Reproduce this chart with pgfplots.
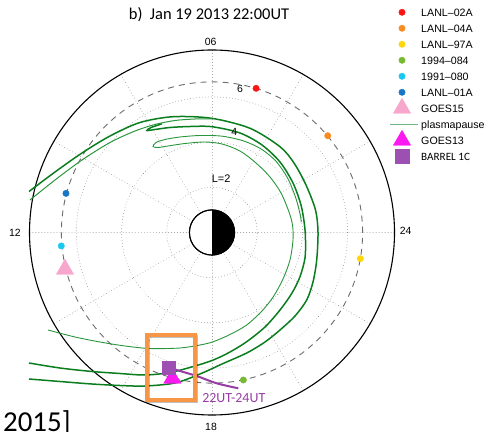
\documentclass[border=0pt]{standalone}
\usepackage{pgfplots}
\pgfplotsset{compat=1.18}
\usepackage{fontspec}
\setmainfont{Liberation Sans}
\newfontfamily\carlito{Carlito}

\definecolor{lanlred}{RGB}{250,20,20}
\definecolor{lanlorange}{RGB}{247,140,35}
\definecolor{lanlyellow}{RGB}{255,214,10}
\definecolor{satgreen}{RGB}{118,186,52}
\definecolor{satcyan}{RGB}{25,200,240}
\definecolor{satblue}{RGB}{25,118,196}
\definecolor{goespink}{RGB}{247,166,204}
\definecolor{goesmag}{RGB}{250,25,240}
\definecolor{barrel}{RGB}{155,80,178}
\definecolor{ppdark}{RGB}{10,125,30}
\definecolor{pplight}{RGB}{40,150,60}
\definecolor{ppleg}{RGB}{110,180,130}
\definecolor{track}{RGB}{150,60,165}
\definecolor{boxorange}{RGB}{247,150,70}
\definecolor{gridgray}{RGB}{145,145,145}

% 1 L = 22.6 bp on the page
\pgfplotsset{
  legmark/.style={only marks,
    legend image code/.code={%
      \draw[##1,overlay] plot coordinates {(12bp,0bp)};
      \path[draw=none,fill=none] (0bp,-4bp) rectangle (31.2bp,4bp);}},
  legline/.style={
    legend image code/.code={%
      \draw[##1,overlay] (0bp,0bp) -- (28bp,0bp);
      \path[draw=none,fill=none] (0bp,-4bp) rectangle (31.2bp,4bp);}},
}
\tikzset{
  gridline/.style={gridgray, line width=0.85bp, line cap=round,
    dash pattern=on 0.01bp off 3bp},
}

\begin{document}
\begin{tikzpicture}
\begin{axis}[
  at={(0,0)}, anchor=south west,
  scale only axis, width=486bp, height=432bp,
  xmin=-9.3805, xmax=12.1239, ymin=-8.8274, ymax=10.2876,
  axis lines=none, ticks=none, clip=false,
  legend cell align=left,
  legend style={draw=none, fill=none, inner sep=0pt, outer sep=0pt,
    at={(0.8025,0.9808)}, anchor=north west,
    row sep=8bp, column sep=0pt,
    nodes={inner sep=0pt, text height=7.7bp, text depth=0bp,
      font=\fontsize{10.7}{12}\selectfont}},
]
% --- L-shell grid ---
\pgfplotsinvokeforeach{0,30,...,330}{
  \draw[gridline] (axis cs:0,0) ++(#1:22.6bp) -- ++(#1:159.9bp);
}
\draw[gridline] (axis cs:0,0) circle[radius=45.2bp];
\draw[gridline] (axis cs:0,0) circle[radius=90.4bp];
\draw[gridline] (axis cs:0,0) circle[radius=135.6bp];
\draw[gray!85!black, line width=0.9bp, dash pattern=on 6bp off 5bp]
  (axis cs:0,0) circle[radius=150.6bp];
\draw[black, line width=1.1bp] (axis cs:0,0) circle[radius=182.5bp];

% Earth: day side white, night side black
\draw[fill=white, line width=1bp] (axis cs:0,0) circle[radius=22.6bp];
\fill[black] (axis cs:0,0) ++(90:22.6bp) arc[start angle=90, end angle=-90, radius=22.6bp] -- cycle;
\draw[line width=1bp] (axis cs:0,0) circle[radius=22.6bp];

% --- plasmapause contours ---
\addplot[ppdark, line width=1.5bp, smooth, tension=0.5, forget plot] coordinates {
  (-8.097,-6.482) (-6.726,-6.593) (-5.310,-6.704) (-4.071,-6.770) (-2.965,-6.792)
  (-1.637,-6.659) (-0.531,-6.261) (0.442,-5.819) (1.535,-5.332) (2.345,-4.845)
  (3.009,-4.314) (3.673,-3.695) (4.190,-2.987) (4.469,-2.190) (4.633,-1.217)
  (4.690,0.022) (4.580,0.996) (4.159,2.102) (3.628,3.075) (3.009,3.796) (1.681,4.611)
  (-0.013,5.053) (-1.712,5.124) (-3.186,4.867) (-4.513,4.270) (-5.752,3.518)
  (-6.947,2.677) (-8.097,1.814)};
\addplot[ppdark, line width=1.5bp, smooth, tension=0.5, forget plot] coordinates {
  (-8.097,-5.774) (-6.726,-5.996) (-5.310,-6.150) (-4.071,-6.239) (-2.965,-6.305)
  (-1.858,-6.195) (-0.752,-5.907) (0.058,-5.642) (0.796,-5.288) (1.535,-4.832)
  (2.345,-4.181) (3.009,-3.429) (3.540,-2.677) (3.894,-1.956) (4.115,-1.128)
  (4.137,-0.332) (4.093,0.332)
  (3.938,1.217) (3.584,2.190) (3.009,3.119) (2.212,3.872) (1.239,4.403)
  (0,4.681) (-0.973,4.690) (-1.858,4.646) (-2.522,4.558) (-2.876,4.513)
  (-2.699,4.646) (-2.212,4.810)};
\addplot[pplight, line width=1bp, smooth, tension=0.5, forget plot] coordinates {
  (-8.053,1.438) (-6.947,2.323) (-5.752,3.208) (-4.513,3.982) (-3.407,4.491)
  (-2.522,4.779) (-1.637,4.956) (-0.752,5.022) (0,5.031)};
\addplot[pplight, line width=0.9bp, smooth, tension=0.5, forget plot] coordinates {
  (-7.257,-4.314) (-6.062,-4.624) (-4.956,-4.845) (-3.850,-5.022) (-2.743,-5.133)
  (-1.416,-5.111) (-0.531,-4.978) (0.058,-4.832) (0.796,-4.513) (1.535,-4.093)
  (2.212,-3.473) (2.712,-2.841) (3.142,-2.058) (3.451,-1.217) (3.584,-0.332)
  (3.562,0.332) (3.407,0.907)
  (3.053,1.748) (2.566,2.456) (1.947,3.075) (1.239,3.606) (0.442,3.916)
  (-0.310,4.004) (-1.195,3.938) (-1.947,3.827) (-2.389,3.761) (-2.611,3.805)
  (-2.478,3.982) (-2.080,4.115) (-1.416,4.226) (-0.531,4.292) (0.442,4.262)
  (1.400,4.050) (2.200,3.680) (2.850,3.130) (3.350,2.400) (3.700,1.550)
  (3.900,0.800) (3.950,0.450)};

% --- spacecraft positions (MLT*15 deg, L) ---
\addplot[data cs=polar, only marks, mark=*, mark size=3.2bp, lanlred, forget plot] coordinates {(73.0,6.671)};
\addplot[data cs=polar, only marks, mark=*, mark size=3.2bp, lanlorange, forget plot] coordinates {(39.9,6.675)};
\addplot[data cs=polar, only marks, mark=*, mark size=3.2bp, lanlyellow, forget plot] coordinates {(350.0,6.664)};
\addplot[data cs=polar, only marks, mark=*, mark size=3.2bp, satgreen, forget plot] coordinates {(282.0,6.672)};
\addplot[data cs=polar, only marks, mark=*, mark size=3.2bp, satcyan, forget plot] coordinates {(185.1,6.695)};
\addplot[data cs=polar, only marks, mark=*, mark size=3.2bp, satblue, forget plot] coordinates {(165.0,6.689)};
\addplot[data cs=polar, only marks, mark=triangle*, mark size=10bp, goespink, forget plot] coordinates {(194.05,6.705)};
\addplot[data cs=polar, only marks, mark=triangle*, mark size=10bp, goesmag, forget plot] coordinates {(254.8,6.684)};
% BARREL 1C track 22-24 UT
\addplot[track, line width=2bp, smooth, forget plot] coordinates {
  (-1.894,-5.973) (-1.562,-6.084) (-0.677,-6.350) (0.208,-6.673) (1.164,-6.894)};
\addplot[data cs=polar, only marks, mark=square*, mark size=6.5bp, barrel, forget plot] coordinates {(252.4,6.266)};

% highlight box
\draw[black, opacity=0.25, line width=3.3bp] (axis cs:-2.836,-4.595) rectangle (axis cs:-0.712,-7.472);
\draw[boxorange, line width=3.3bp] (axis cs:-2.876,-4.535) rectangle (axis cs:-0.752,-7.412);

% --- labels ---
\node[anchor=base, font=\carlito\fontsize{16.5}{18}\selectfont] at (axis cs:-0.133,9.403) {b)\ \ Jan 19 2013 22:00UT};
\node[anchor=base, font=\fontsize{10.5}{12}\selectfont] at (axis cs:-0.058,8.296) {06};
\node[anchor=base, font=\fontsize{10.5}{12}\selectfont] at (axis cs:-8.717,-0.155) {12};
\node[anchor=base, font=\fontsize{10.5}{12}\selectfont] at (axis cs:8.571,-0.080) {24};
\node[anchor=base, font=\fontsize{10.5}{12}\selectfont] at (axis cs:-0.044,-8.783) {18};
\node[anchor=base, font=\fontsize{11}{12}\selectfont] at (axis cs:0.405,2.204) {L=2};
\node[anchor=base, font=\fontsize{10.5}{12}\selectfont] at (axis cs:0.987,4.270) {4};
\node[anchor=base, font=\fontsize{10.5}{12}\selectfont] at (axis cs:1.239,6.186) {6};
\node[anchor=base, text=track, font=\carlito\fontsize{14}{16}\selectfont] at (axis cs:0.965,-7.531) {22UT-24UT};
\node[anchor=base west, inner sep=0pt, font=\carlito\fontsize{29}{32}\selectfont] at (axis cs:-9.248,-8.805) {2015]};

% --- legend ---
\addlegendimage{legmark, mark=*, mark size=3.2bp, lanlred}
\addlegendentry{LANL--02A}
\addlegendimage{legmark, mark=*, mark size=3.2bp, lanlorange}
\addlegendentry{LANL--04A}
\addlegendimage{legmark, mark=*, mark size=3.2bp, lanlyellow}
\addlegendentry{LANL--97A}
\addlegendimage{legmark, mark=*, mark size=3.2bp, satgreen}
\addlegendentry{1994--084}
\addlegendimage{legmark, mark=*, mark size=3.2bp, satcyan}
\addlegendentry{1991--080}
\addlegendimage{legmark, mark=*, mark size=3.2bp, satblue}
\addlegendentry{LANL--01A}
\addlegendimage{legmark, mark=triangle*, mark size=10bp, goespink}
\addlegendentry{GOES15}
\addlegendimage{legline, ppleg, line width=0.7bp}
\addlegendentry{plasmapause}
\addlegendimage{legmark, mark=triangle*, mark size=10bp, goesmag}
\addlegendentry{GOES13}
\addlegendimage{legmark, mark=square*, mark size=7bp, barrel}
\addlegendentry{{\carlito\fontsize{11.2}{12}\selectfont BARREL 1C}}
\end{axis}
\pgfresetboundingbox
\useasboundingbox (0,0) rectangle (486bp,432bp);
\end{tikzpicture}
\end{document}
